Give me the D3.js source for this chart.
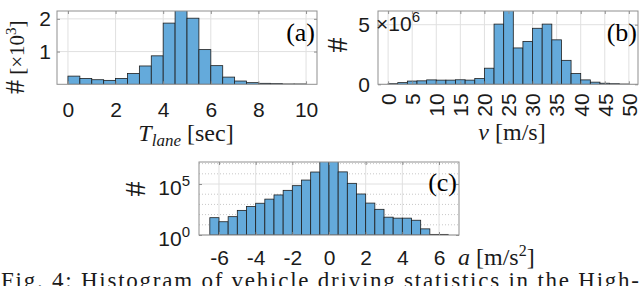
<!DOCTYPE html>
<html>
<head>
<meta charset="utf-8">
<script src="https://cdn.jsdelivr.net/npm/d3@7"></script>
<style>
  body { margin:0; background:#fff; }
  svg { display:block; }
</style>
</head>
<body>
<svg id="fig" width="640" height="286"></svg>
<script>
// (a) lane-keeping time, counts x10^3
var tlaneEdges  = [0,0.5,1,1.5,2,2.5,3,3.5,4,4.5,5,5.5,6,6.5,7,7.5,8,8.5,9,9.5,10];
var tlaneCounts = [0.25,0.18,0.14,0.12,0.18,0.33,0.56,0.87,1.87,2.4,2.02,1.06,0.57,0.22,0.1,0.05,0.03,0.02,0.01,0.01];
var tlaneTicks  = [0,2,4,6,8,10];
var tlaneYTicks = [1,2];

// (b) speed, counts x10^6
var speedEdges  = [0,2,4,6,8,10,12,14,16,18,20,22,24,26,28,30,32,34,36,38,40,42,44,46,48,50];
var speedCounts = [0.05,0.14,0.27,0.29,0.37,0.35,0.35,0.38,0.35,0.48,1.35,5.05,6.4,3.05,3.6,4.7,5.05,3.73,2.01,0.9,0.37,0.18,0.09,0.05,0.02];
var speedTicks  = [0,5,10,15,20,25,30,35,40,45,50];
var speedYTicks = [0,5];

// (c) acceleration, raw counts (log axis)
var accEdges  = [-6.5,-6,-5.5,-5,-4.5,-4,-3.5,-3,-2.5,-2,-1.5,-1,-0.5,0,0.5,1,1.5,2,2.5,3,3.5,4,4.5,5,5.5,6,6.5];
var accCounts = [50,20,63,260,630,1300,3300,8500,24000,69000,245000,1500000,16000000,16000000,1550000,117000,10500,1350,330,56,45,45,28,4,1.15,1.15];
var accTicks  = [-6,-4,-2,0,2,4,6];
var accYTicks = [1,1e5];
var accMinor  = [10,100,1000,10000,1e6,1e7];

var svg = d3.select("#fig");
var sans = "'Liberation Sans', Arial, sans-serif";
var serif = "'Liberation Serif', 'Times New Roman', serif";
var edge = "#8f8f8f";

function drawPanel(o) {
  var g = svg.append("g");
  var x = d3.scaleLinear().domain(o.xDomain).range([o.left, o.right]);
  var y = (o.log ? d3.scaleLog() : d3.scaleLinear()).domain(o.yDomain).range([o.bottom, o.top]);

  g.append("clipPath").attr("id", o.id + "-clip")
    .append("rect")
    .attr("x", o.left).attr("y", o.top)
    .attr("width", o.right - o.left).attr("height", o.bottom - o.top);

  if (o.minor) {
    g.append("g").selectAll("line").data(o.minor).enter().append("line")
      .attr("x1", o.left).attr("x2", o.right)
      .attr("y1", function(d) { return y(d); }).attr("y2", function(d) { return y(d); })
      .attr("stroke", "#c8c8c8").attr("stroke-dasharray", "1,2");
  }

  g.append("g").selectAll("line").data(o.xTicks).enter().append("line")
    .attr("x1", function(d) { return x(d); }).attr("x2", function(d) { return x(d); })
    .attr("y1", o.top).attr("y2", o.bottom)
    .attr("stroke", "#e0e0e0");
  g.append("g").selectAll("line").data(o.yTicks).enter().append("line")
    .attr("x1", o.left).attr("x2", o.right)
    .attr("y1", function(d) { return y(d); }).attr("y2", function(d) { return y(d); })
    .attr("stroke", "#e0e0e0");

  var base = y(o.yDomain[0]);
  g.append("g").attr("clip-path", "url(#" + o.id + "-clip)")
    .selectAll("rect").data(o.counts).enter().append("rect")
    .attr("x", function(d, i) { return x(o.edges[i]); })
    .attr("width", function(d, i) { return x(o.edges[i + 1]) - x(o.edges[i]); })
    .attr("y", function(d) { return y(d); })
    .attr("height", function(d) { return base - y(d); })
    .attr("fill", "#64aadb")
    .attr("stroke", "#1e1e1e")
    .attr("stroke-width", 0.8);

  var xAxis = g.append("g").attr("transform", "translate(0," + o.bottom + ")")
    .call(d3.axisBottom(x).tickValues(o.xTicks).tickSize(-3).tickPadding(o.xPad)
      .tickFormat(function(d) { return String(d); }));
  g.append("g").attr("transform", "translate(0," + o.top + ")")
    .call(d3.axisTop(x).tickValues(o.xTicks).tickSize(-3).tickFormat(""));
  var yAxis = g.append("g").attr("transform", "translate(" + o.left + ",0)")
    .call(d3.axisLeft(y).tickValues(o.yTicks).tickSize(-3).tickPadding(o.yPad)
      .tickFormat(function(d) { return String(d); }));
  g.append("g").attr("transform", "translate(" + o.right + ",0)")
    .call(d3.axisRight(y).tickValues(o.yTicks).tickSize(-3).tickFormat(""));

  g.selectAll(".domain").remove();
  g.selectAll(".tick line").attr("stroke", edge);
  g.selectAll(".tick text")
    .attr("font-family", sans).attr("font-size", 21).attr("fill", "#1a1a1a");

  g.append("rect")
    .attr("x", o.left).attr("y", o.top)
    .attr("width", o.right - o.left).attr("height", o.bottom - o.top)
    .attr("fill", "none").attr("stroke", edge);

  g.append("text")
    .attr("x", o.tagX).attr("y", o.tagY)
    .attr("text-anchor", "end")
    .attr("font-family", serif).attr("font-size", 26)
    .text(o.tag);

  return { g: g, x: x, y: y, xAxis: xAxis, yAxis: yAxis };
}

// ---- (a)
var pa = drawPanel({
  id: "pa", left: 57, right: 317, top: 11, bottom: 84.3,
  xDomain: [-0.46, 10.46], yDomain: [0, 2.24],
  edges: tlaneEdges, counts: tlaneCounts,
  xTicks: tlaneTicks, yTicks: tlaneYTicks, xPad: 18, yPad: 6,
  tag: "(a)", tagX: 315, tagY: 41
});

var la = svg.append("text")
  .attr("transform", "translate(24,94) rotate(-90)")
  .attr("font-family", serif).attr("font-size", 21).attr("fill", "#1a1a1a");
la.append("tspan").attr("font-size", 28).text("#");
la.append("tspan").text(" [\u00d710");
la.append("tspan").attr("font-size", 15).attr("dy", -8).text("3");
la.append("tspan").attr("dy", 8).text("]");

var xa = svg.append("text")
  .attr("x", 186).attr("y", 141).attr("text-anchor", "middle")
  .attr("font-family", serif).attr("font-size", 24).attr("fill", "#1a1a1a");
xa.append("tspan").attr("font-style", "italic").text("T");
xa.append("tspan").attr("font-style", "italic").attr("font-size", 17).attr("dy", 5).text("lane");
xa.append("tspan").attr("dy", -5).text(" [sec]");

// ---- (b)
var pb = drawPanel({
  id: "pb", left: 378, right: 638, top: 11, bottom: 84.3,
  xDomain: [-2.1, 51.9], yDomain: [0, 6.15],
  edges: speedEdges, counts: speedCounts,
  xTicks: speedTicks, yTicks: speedYTicks, xPad: 9, yPad: 8,
  tag: "(b)", tagX: 637, tagY: 41
});
pb.xAxis.selectAll(".tick text")
  .attr("transform", "rotate(-90)")
  .attr("x", -9).attr("y", 0).attr("dy", "0.35em")
  .attr("text-anchor", "end");

svg.append("text")
  .attr("x", 376).attr("y", pb.y(5)).attr("dy", "0.32em")
  .attr("font-family", sans).attr("font-size", 21).attr("fill", "#1a1a1a")
  .text("\u00d710")
  .append("tspan").attr("font-size", 15).attr("dy", -9).text("6");

svg.append("text")
  .attr("transform", "translate(347,45) rotate(-90)")
  .attr("text-anchor", "middle")
  .attr("font-family", serif).attr("font-size", 30).attr("fill", "#1a1a1a")
  .text("#");

var xb = svg.append("text")
  .attr("x", 512).attr("y", 140).attr("text-anchor", "middle")
  .attr("font-family", serif).attr("font-size", 24).attr("fill", "#1a1a1a");
xb.append("tspan").attr("font-style", "italic").text("v");
xb.append("tspan").text(" [m/s]");

// ---- (c)
var pc = drawPanel({
  id: "pc", left: 199, right: 459, top: 162, bottom: 235,
  xDomain: [-7.09, 7.09], yDomain: [1, Math.pow(10, 7.16)], log: true, minor: accMinor,
  edges: accEdges, counts: accCounts,
  xTicks: accTicks, yTicks: accYTicks, xPad: 15, yPad: 9,
  tag: "(c)", tagX: 457, tagY: 191
});
pc.yAxis.selectAll(".tick text").each(function(d) {
  var t = d3.select(this).text("10").attr("dy", "0.5em");
  t.append("tspan").attr("font-size", 15).attr("dy", -9)
    .text(Math.round(Math.log10(d)));
});

svg.append("text")
  .attr("transform", "translate(145,189) rotate(-90)")
  .attr("text-anchor", "middle")
  .attr("font-family", serif).attr("font-size", 30).attr("fill", "#1a1a1a")
  .text("#");

var xc = svg.append("text")
  .attr("x", 458).attr("y", 265)
  .attr("font-family", serif).attr("font-size", 24).attr("fill", "#1a1a1a");
xc.append("tspan").attr("font-style", "italic").text("a");
xc.append("tspan").text(" [m/s");
xc.append("tspan").attr("font-size", 16).attr("dy", -9).text("2");
xc.append("tspan").attr("dy", 9).text("]");

// caption, cut by the bottom edge
svg.append("text")
  .attr("x", 1).attr("y", 288)
  .attr("font-family", serif).attr("font-size", 23).attr("fill", "#1a1a1a")
  .attr("textLength", 638).attr("lengthAdjust", "spacing")
  .text("Fig. 4: Histogram of vehicle driving statistics in the High-");
</script>
</body>
</html>
